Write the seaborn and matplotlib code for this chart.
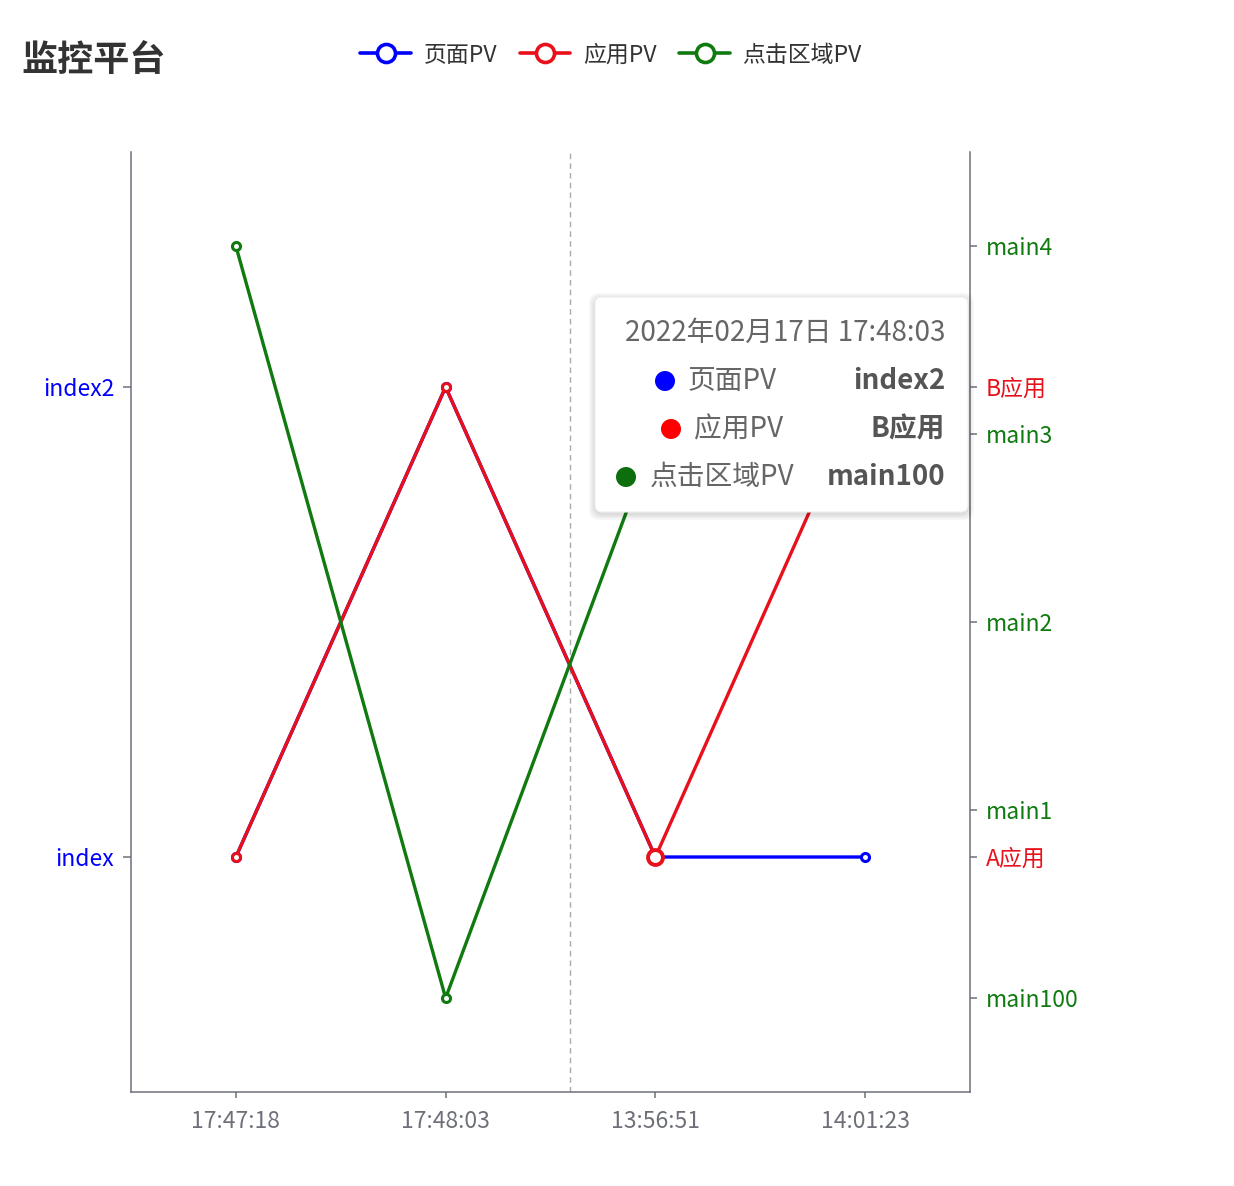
import matplotlib
matplotlib.use("Agg")
import matplotlib.pyplot as plt
import seaborn as sns
import pandas as pd
from matplotlib.lines import Line2D
from matplotlib.patches import FancyBboxPatch, Circle

sns.set_theme(style="white")
plt.rcParams['font.family'] = ['Noto Sans CJK SC', 'DejaVu Sans']

# ---------------- data ----------------
times = ["17:47:18", "17:48:03", "13:56:51", "14:01:23"]
page_cats = ["index", "index2"]
app_cats = ["A应用", "B应用"]
area_cats = ["main100", "main1", "main2", "main3", "main4"]

page_pv = ["index", "index2", "index", "index"]
app_pv = ["A应用", "B应用", "A应用", "B应用"]
area_pv = ["main4", "main100", "main3", "main3"]

series_names = ["页面PV", "应用PV", "点击区域PV"]
BLUE, RED, GREEN = "#0000ff", "#e8101a", "#107a10"
AXC = "#6e7079"

tooltip_title = "2022年02月17日 17:48:03"
tooltip_vals = ["index2", "B应用", "main100"]

df = pd.DataFrame({
    "time": times,
    "page": [page_cats.index(v) for v in page_pv],
    "app": [app_cats.index(v) for v in app_pv],
    "area": [area_cats.index(v) for v in area_pv],
})

W, H = 1234, 1186
fig = plt.figure(figsize=(W / 100, H / 100), dpi=100)
fig.patch.set_facecolor("white")
ax = fig.add_axes([131 / W, 94 / H, 839 / W, 940 / H])
ax2 = ax.twinx()
ax3 = ax.twinx()
for a in (ax, ax2, ax3):
    a.set_facecolor("none")
    a.grid(False)

line_kw = dict(linewidth=2.4, marker="o", markersize=5.8, markerfacecolor="white",
               markeredgewidth=2.2, sort=False, legend=False, zorder=3)
sns.lineplot(data=df, x="time", y="page", ax=ax, color=BLUE, markeredgecolor=BLUE, **line_kw)
sns.lineplot(data=df, x="time", y="app", ax=ax2, color=RED, markeredgecolor=RED, **line_kw)
sns.lineplot(data=df, x="time", y="area", ax=ax3, color=GREEN, markeredgecolor=GREEN, **line_kw)

# emphasised (hovered) point of 应用PV
emp = df.iloc[[2]]
sns.scatterplot(data=emp, x="time", y="app", ax=ax2, s=115, facecolor="white",
                edgecolor=RED, linewidth=2.8, zorder=4, legend=False)

ax.set_xlim(-0.5, len(times) - 0.5)
ax.set_ylim(-0.5, len(page_cats) - 0.5)
ax2.set_ylim(-0.5, len(app_cats) - 0.5)
ax3.set_ylim(-0.5, len(area_cats) - 0.5)

ax.set_xticks(range(len(times)))
ax.set_xticklabels(times)
ax.set_yticks(range(len(page_cats)))
ax.set_yticklabels(page_cats)
ax2.set_yticks(range(len(app_cats)))
ax2.set_yticklabels(app_cats)
ax3.set_yticks(range(len(area_cats)))
ax3.set_yticklabels(area_cats)
for a in (ax, ax2, ax3):
    a.set_xlabel("")
    a.set_ylabel("")

# spines
for s in ("top", "right"):
    ax.spines[s].set_visible(False)
for s in ("left", "bottom"):
    ax.spines[s].set_color(AXC)
    ax.spines[s].set_linewidth(1.1)
for a in (ax2, ax3):
    for s in ("top", "left", "bottom"):
        a.spines[s].set_visible(False)
ax2.spines["right"].set_color(AXC)
ax2.spines["right"].set_linewidth(1.1)
ax3.spines["right"].set_visible(False)

ax.tick_params(axis="x", length=4.5, width=1.1, color=AXC, pad=8.5, labelsize=16.5, labelcolor=AXC,
               bottom=True, direction="out")
ax.tick_params(axis="y", length=5.5, width=1.1, color=AXC, pad=6.5, labelsize=16.5, labelcolor=BLUE,
               left=True, direction="out")
ax2.tick_params(axis="y", length=5, width=1.1, color=AXC, pad=6.5, labelsize=16.5, labelcolor=RED,
                right=True, direction="out")
ax3.tick_params(axis="y", length=5, width=1.1, color=AXC, pad=6.5, labelsize=16.5, labelcolor=GREEN,
                right=True, direction="out")

# axis pointer
ax.axvline(1.595, color="#aaaaaa", linestyle=(0, (4, 3)), linewidth=1.0, zorder=1)

# title
fig.text(21 / W, 1 - 61 / H, "监控平台", fontsize=26, fontweight="bold", color="#333333",
         va="center", ha="left")

# legend
handles = [Line2D([], [], color=c, lw=2.6, marker="o", markersize=13, markerfacecolor="white",
                  markeredgewidth=2.6, markeredgecolor=c) for c in (BLUE, RED, GREEN)]
leg = fig.legend(handles, series_names, loc="center", bbox_to_anchor=(611 / W, 1 - 55 / H),
                 ncol=3, frameon=False, fontsize=16.5, handlelength=2.2, handletextpad=0.55,
                 columnspacing=1.0)
for t in leg.get_texts():
    t.set_color("#333333")

# tooltip overlay (pixel coordinates)
ov = fig.add_axes([0, 0, 1, 1], zorder=10)
ov.set_xlim(0, W)
ov.set_ylim(H, 0)
ov.axis("off")
ov.patch.set_alpha(0)
for i, alpha in enumerate([0.03, 0.03, 0.03, 0.04]):
    g = 6 - i * 1.5
    ov.add_patch(FancyBboxPatch((595 - g, 297 - g + 2), 373 + 2 * g, 215 + 2 * g,
                                boxstyle="round,pad=0,rounding_size=10", facecolor="black",
                                edgecolor="none", alpha=alpha))
ov.add_patch(FancyBboxPatch((595, 297), 373, 215, boxstyle="round,pad=0,rounding_size=7",
                            facecolor="white", edgecolor="#eeeeee", linewidth=0.8))
ov.text(945, 333, tooltip_title, fontsize=20, color="#666666", ha="right", va="center")
dot_x = [665, 671, 626]
name_x = [688, 694, 650]
row_y = [381, 429, 477]
dot_cols = [BLUE, "#ff0000", "#0d6e0d"]
for dx, nx, ry, dc, nm, val in zip(dot_x, name_x, row_y, dot_cols, series_names, tooltip_vals):
    ov.add_patch(Circle((dx, ry), 10, facecolor=dc, edgecolor="none"))
    ov.text(nx, ry, nm, fontsize=20, color="#666666", ha="left", va="center")
    ov.text(945, ry, val, fontsize=20, color="#555555", ha="right", va="center",
            fontweight="bold")

fig.savefig("out.png", dpi=100, facecolor="white")
